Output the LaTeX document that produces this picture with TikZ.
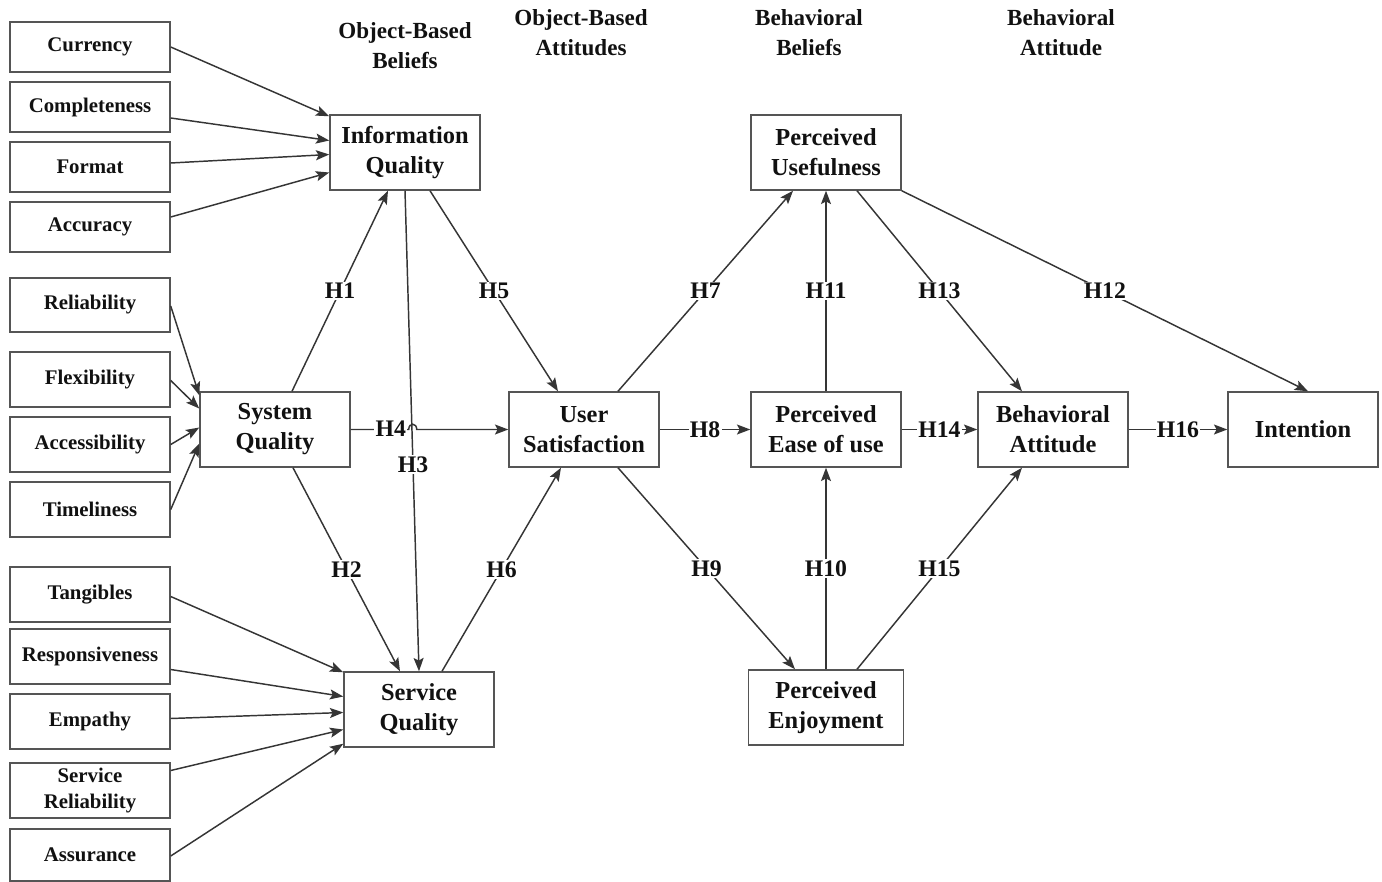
\documentclass[tikz,border=0pt]{standalone}
\usepackage{fontspec}
\setmainfont{Liberation Serif}
\usetikzlibrary{arrows.meta,calc}
\definecolor{linec}{HTML}{353535}
\definecolor{boxc}{HTML}{555555}
\definecolor{textc}{HTML}{111111}
\begin{document}
\begin{tikzpicture}[x=0.75pt,y=-0.75pt,
  bigbox/.style={draw=boxc,line width=1.1pt,fill=white,align=center,text=textc,
    minimum width=112.5pt,minimum height=56.25pt,inner sep=0pt,
    font=\bfseries\fontsize{18.3}{22.5}\selectfont},
  smallbox/.style={draw=boxc,line width=1.1pt,fill=white,align=center,text=textc,
    minimum width=120pt,minimum height=40pt,inner sep=0pt,
    font=\bfseries\fontsize{15.6}{19}\selectfont},
  header/.style={align=center,text=textc,font=\bfseries\fontsize{17.3}{22.5}\selectfont},
  hlab/.style={fill=white,inner sep=1pt,text=textc,font=\bfseries\fontsize{17.8}{20}\selectfont},
  conn/.style={draw=linec,line width=1.1pt,-{Stealth[length=10pt,width=7.5pt,inset=2pt]}},
  plain/.style={draw=linec,line width=1.1pt}]
\useasboundingbox (0,0) rectangle (1382,882);
% headers
\node[header] (h1) at (405,46) {Object-Based\\Beliefs};
\node[header] (h2) at (581,33) {Object-Based\\Attitudes};
\node[header] (h3) at (809,33) {Behavioral\\Beliefs};
\node[header] (h4) at (1061,33) {Behavioral\\Attitude};
% left boxes
\node[smallbox,minimum height=37.5pt] (cur) at (90,47) {Currency};
\node[smallbox,minimum height=37.5pt] (com) at (90,107) {Completeness};
\node[smallbox,minimum height=37.5pt] (for) at (90,167) {Format};
\node[smallbox,minimum height=37.5pt] (acc) at (90,227) {Accuracy};
\node[smallbox,minimum height=40.5pt] (rel) at (90,305) {Reliability};
\node[smallbox,minimum height=41pt] (fle) at (90,379.5) {Flexibility};
\node[smallbox,minimum height=41pt] (acs) at (90,444.5) {Accessibility};
\node[smallbox,minimum height=41pt] (tim) at (90,509.5) {Timeliness};
\node[smallbox,minimum height=41pt] (tan) at (90,594.5) {Tangibles};
\node[smallbox,minimum height=41pt] (res) at (90,656.5) {Responsiveness};
\node[smallbox,minimum height=41pt] (emp) at (90,721.5) {Empathy};
\node[smallbox,minimum height=41pt] (srl) at (90,790.5) {Service\\Reliability};
\node[smallbox,minimum height=39pt] (ass) at (90,855) {Assurance};
% main boxes
\node[bigbox] (iq) at (405,152.5) {Information\\Quality};
\node[bigbox] (sq) at (275,429.5) {System\\Quality};
\node[bigbox] (svq) at (419,709.5) {Service\\Quality};
\node[bigbox] (us) at (584,429.5) {User\\Satisfaction};
\node[bigbox] (pu) at (826,152.5) {Perceived\\Usefulness};
\node[bigbox] (peu) at (826,429.5) {Perceived\\Ease of use};
\node[bigbox,minimum width=116pt] (pen) at (826,707.5) {Perceived\\Enjoyment};
\node[bigbox] (ba) at (1053,429.5) {Behavioral\\Attitude};
\node[bigbox] (int) at (1303,429.5) {Intention};
% indicator arrows
\draw[conn] (cur.east) -- ($(iq.north west)+(0,2)$);
\draw[conn] ($(com.east)+(0,11)$) -- ($(iq.west)+(0,-12)$);
\draw[conn] ($(for.east)+(0,-4)$) -- ($(iq.west)+(0,2)$);
\draw[conn] ($(acc.east)+(0,-10)$) -- ($(iq.west)+(0,20)$);
\draw[conn] ($(rel.east)+(0,1)$) -- ($(sq.north west)+(0,4)$);
\draw[conn] ($(fle.east)+(0,1)$) -- ($(sq.west)+(0,-21)$);
\draw[conn] ($(acs.east)+(0,0)$) -- ($(sq.west)+(0,-2)$);
\draw[conn] ($(tim.east)+(0,0)$) -- ($(sq.west)+(0,14)$);
\draw[conn] ($(tan.east)+(0,2)$) -- ($(svq.north west)+(0,1)$);
\draw[conn] ($(res.east)+(0,13)$) -- ($(svq.west)+(0,-13)$);
\draw[conn] ($(emp.east)+(0,-3)$) -- ($(svq.west)+(0,3)$);
\draw[conn] ($(srl.east)+(0,-20)$) -- ($(svq.west)+(0,20)$);
\draw[conn] ($(ass.east)+(0,1)$) -- ($(svq.south west)+(0,-4)$);
% hypotheses
\draw[conn] ($(sq.north)+(17,0)$) -- node[hlab]{H1} ($(iq.south)+(-17,0)$);
\draw[conn] ($(sq.south)+(18,0)$) -- node[hlab]{H2} ($(svq.north)+(-19,0)$);
\draw[conn] (iq.south) -- node[hlab,pos=0.57]{H3} (svq.north);
\draw[conn] (sq.east) -- ($(sq.east)+(58,0)$) .. controls ($(sq.east)+(58,-7)$) and ($(sq.east)+(66,-7)$) .. ($(sq.east)+(66,0)$) -- (us.west);
\node[hlab] (h4lab) at ($(sq.east)+(40,-1)$) {H4};
\draw[conn] ($(iq.south)+(25,0)$) -- node[hlab]{H5} ($(us.north)+(-26,0)$);
\draw[conn] ($(svq.north)+(23,0)$) -- node[hlab]{H6} ($(us.south)+(-23,0)$);
\draw[conn] ($(us.north)+(34,0)$) -- node[hlab]{H7} ($(pu.south)+(-33,0)$);
\draw[conn] (us.east) -- node[hlab]{H8} (peu.west);
\draw[conn] ($(us.south)+(34,0)$) -- node[hlab]{H9} ($(pen.north)+(-31,0)$);
\draw[conn] (pen.north) -- node[hlab]{H10} (peu.south);
\draw[conn] (peu.north) -- node[hlab]{H11} (pu.south);
\draw[conn] (pu.south east) -- node[hlab]{H12} ($(int.north)+(5,0)$);
\draw[conn] ($(pu.south)+(31,0)$) -- node[hlab]{H13} ($(ba.north)+(-31,0)$);
\draw[conn] (peu.east) -- node[hlab]{H14} (ba.west);
\draw[conn] ($(pen.north)+(31,0)$) -- node[hlab]{H15} ($(ba.south)+(-31,0)$);
\draw[conn] (ba.east) -- node[hlab]{H16} (int.west);
\end{tikzpicture}
\end{document}
